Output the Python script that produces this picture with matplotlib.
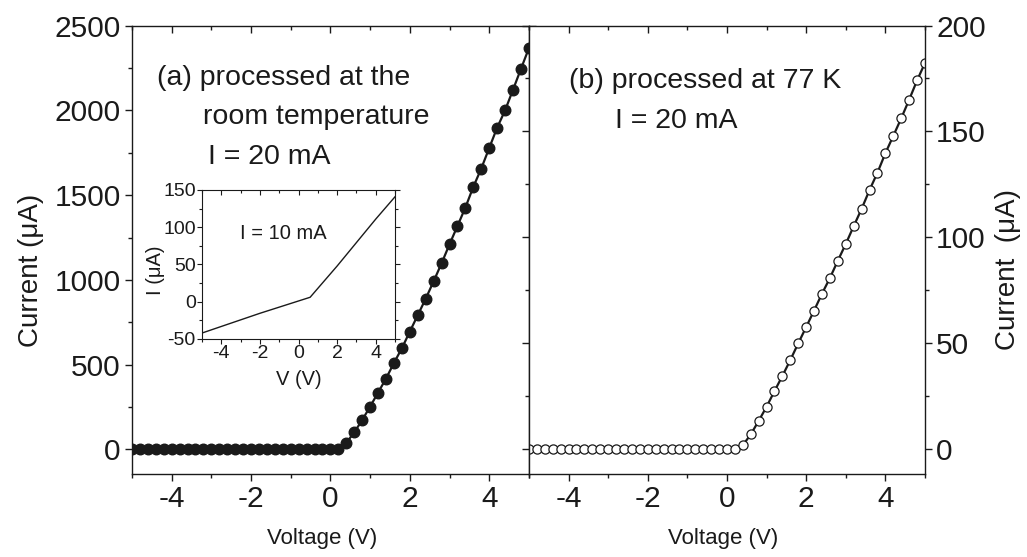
import numpy as np
import matplotlib
matplotlib.use("Agg")
import matplotlib.pyplot as plt
from matplotlib.ticker import MultipleLocator

plt.rcParams['font.family'] = ['Liberation Sans', 'DejaVu Sans']
plt.rcParams['axes.unicode_minus'] = False
ink = '#1a1a1a'

# panel (a): room temperature, filled circles, 0.2 V steps
volt_a = np.round(np.arange(-5.0, 5.01, 0.2), 2)
cur_a = [0] * 27 + [39, 101, 173, 253, 335, 418, 510, 597, 695, 792, 889, 992,
                    1098, 1210, 1318, 1427, 1549, 1657, 1778, 1898, 2000, 2122, 2245, 2367]

# panel (b): 77 K, open circles
volt_b = np.round(np.arange(-5.0, 5.01, 0.2), 2)
cur_b = [-0.3] * 27 + [1.6, 6.7, 13.1, 19.8, 27.2, 34.4, 41.9, 49.8, 57.5, 65.3, 73.3, 80.7,
                       88.9, 96.8, 105.2, 113.4, 122.3, 130.5, 139.7, 147.9, 156.2, 165.0, 174.1, 182.4]

# inset: I = 10 mA
volt_in = [-5, -2, 0.6, 2, 4, 5]
cur_in = [-42, -15.5, 6, 48, 111, 141]

fig = plt.figure(figsize=(10.27, 5.57), dpi=100)
ax1 = fig.add_axes([0.1285, 0.149, 0.3865, 0.805])
ax2 = fig.add_axes([0.515, 0.149, 0.3857, 0.805])
axin = fig.add_axes([0.1967, 0.3914, 0.188, 0.2675])


def style(ax, fs, maj, mnr, xmaj, xmnr, lw=1.0, tl=5, pad=3):
    for s in ax.spines.values():
        s.set_linewidth(lw)
        s.set_color(ink)
    ax.xaxis.set_major_locator(MultipleLocator(xmaj))
    ax.xaxis.set_minor_locator(MultipleLocator(xmnr))
    ax.yaxis.set_major_locator(MultipleLocator(maj))
    ax.yaxis.set_minor_locator(MultipleLocator(mnr))
    ax.tick_params(which='both', direction='out', colors=ink, labelsize=fs,
                   width=lw, pad=pad, left=True, right=True)
    ax.tick_params(which='major', length=tl)
    ax.tick_params(which='minor', length=tl * 0.6)
    top = ax.secondary_xaxis('top')
    top.xaxis.set_major_locator(MultipleLocator(xmaj))
    top.xaxis.set_minor_locator(MultipleLocator(xmnr))
    top.tick_params(which='both', direction='in', labeltop=False, colors=ink, width=lw)
    top.tick_params(which='major', length=tl)
    top.tick_params(which='minor', length=tl * 0.6)
    top.spines['top'].set_visible(False)


ax1.plot(volt_a, cur_a, '-o', color=ink, lw=1.6, ms=7.6, mfc=ink, mec=ink)
ax1.set_xlim(-5, 5)
ax1.set_ylim(-145, 2500)
style(ax1, 21.5, 500, 250, 2, 1, pad=3)
ax1.set_xticks([-4, -2, 0, 2, 4])
ax1.set_xlabel('Voltage (V)', fontsize=16, color=ink, va='center')
ax1.xaxis.set_label_coords(0.48, -0.143)
ax1.set_ylabel('Current (\u03bcA)', fontsize=20, color=ink, va='center')
ax1.yaxis.set_label_coords(-0.255, 0.455)
ax1.text(-4.37, 2191, '(a) processed at the', fontsize=20.5, color=ink, va='center')
ax1.text(-3.21, 1961, 'room temperature', fontsize=20.5, color=ink, va='center')
ax1.text(-3.09, 1725, 'I = 20 mA', fontsize=20.5, color=ink, va='center')

ax2.plot(volt_b, cur_b, '-o', color=ink, lw=1.6, ms=6.6, mfc='white', mec=ink, mew=0.9)
ax2.set_xlim(-5, 5)
ax2.set_ylim(-12, 200)
style(ax2, 21.5, 50, 25, 2, 1, pad=3)
ax2.set_xticks([-4, -2, 0, 2, 4])
ax2.tick_params(axis='y', labelleft=False, labelright=True)
ax2.set_xlabel('Voltage (V)', fontsize=16, color=ink, va='center')
ax2.xaxis.set_label_coords(0.49, -0.143)
ax2.yaxis.set_label_position('right')
ax2.set_ylabel('Current  (\u03bcA)', fontsize=20, color=ink)
ax2.yaxis.label.set_verticalalignment('center')
ax2.yaxis.set_label_coords(1.21, 0.455)
ax2.text(-4.0, 174, '(b) processed at 77 K', fontsize=20.5, color=ink, va='center')
ax2.text(-2.83, 155, 'I = 20 mA', fontsize=20.5, color=ink, va='center')

axin.plot(volt_in, cur_in, '-', color=ink, lw=1.0)
axin.set_xlim(-5, 5)
axin.set_ylim(-50, 150)
style(axin, 14, 50, 25, 2, 1, lw=0.8, tl=3.5, pad=1)
axin.set_xticks([-4, -2, 0, 2, 4])
axin.set_xlabel('V (V)', fontsize=14.5, color=ink, va='center')
axin.xaxis.set_label_coords(0.5, -0.27)
axin.set_ylabel('I (\u03bcA)', fontsize=14.5, color=ink, va='center')
axin.yaxis.set_label_coords(-0.24, 0.46)
axin.text(-0.8, 92, 'I = 10 mA', fontsize=14.5, color=ink, ha='center', va='center')

fig.savefig('out.png', dpi=100)
